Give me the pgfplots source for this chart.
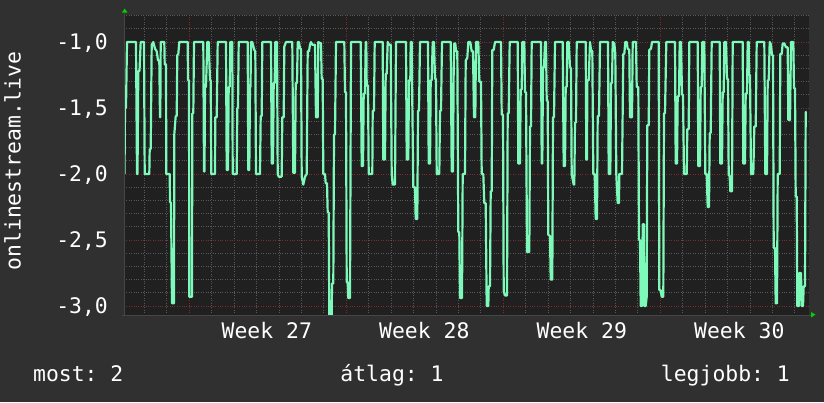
\documentclass[border=0pt]{standalone}
\usepackage{pgfplots}
\pgfplotsset{compat=1.18}
\usepackage{fontspec}
\setmonofont{DejaVu Sans Mono}
\definecolor{bgc}{RGB}{48,48,48}
\definecolor{plotbg}{RGB}{32,32,32}
\definecolor{mingrid}{RGB}{88,88,88}
\definecolor{majgrid}{RGB}{125,45,45}
\definecolor{linec}{RGB}{125,250,185}
\definecolor{arrowc}{RGB}{0,210,0}
\definecolor{axisc}{RGB}{70,70,70}
\newcommand{\rfont}{\ttfamily\fontsize{21.4}{25}\selectfont}
\begin{document}
\begin{tikzpicture}[x=1pt,y=1pt]
\useasboundingbox (0,0) rectangle (824,402);
\fill[bgc] (0,0) rectangle (824,402);
\begin{axis}[at={(124pt,87pt)}, anchor=south west, scale only axis,
 width=685pt, height=300pt,
 xmin=124, xmax=809, ymin=-3.068, ymax=-0.795,
 axis background/.style={fill=plotbg},
 axis line style={draw=none},
 xtick={189.3,346.31,503.32,660.33}, xticklabels={},
 minor xtick={144.44,166.87,...,795},
 ytick={-3,-2.5,-2,-1.5,-1},
 yticklabels={{-3,0},{-2,5},{-2,0},{-1,5},{-1,0}},
 minor ytick={-3,-2.9,...,-0.75},
 grid=both,
 major grid style={dotted, majgrid, line width=1pt},
 minor grid style={dotted, mingrid, line width=1pt},
 major tick length=0pt, minor tick length=0pt,
 tick style={draw=none},
 yticklabel style={font=\rfont, text=white, anchor=base east, inner sep=0pt, xshift=-16pt, yshift=-7.8pt},
 extra x ticks={266.8,424.3,581.8,739.3},
 extra x tick labels={Week 27,Week 28,Week 29,Week 30},
 extra x tick style={grid=none, tick label style={font=\rfont, text=white, anchor=base, inner sep=0pt, yshift=-23.5pt}},
]
\addplot[linec, line width=2.2pt, line join=round, no markers] coordinates {
(124.5,-2.0) (125,-1.5) (126,-1.5) (127,-1.0) (136,-1.0) (137,-2.0) (137.5,-2.0) (138.3,-1.22) (139.5,-1.22) (140.7,-1.0) (144,-1.0) (144.7,-2.0) (149.3,-2.0) (149.7,-1.81) (150.7,-1.81) (151.7,-1.02) (153.3,-1.0) (155,-1.05) (156.7,-1.07) (158,-1.14) (159.3,-1.14) (160,-1.57) (160.3,-1.57) (160.7,-1.0) (164.3,-1.0) (164.7,-1.17) (166,-1.17) (166.3,-2.0) (169.7,-2.0) (170,-2.21) (171,-2.22) (172,-2.98) (174,-2.98) (174.3,-1.70) (175.7,-1.56) (176.7,-1.56) (177.3,-1.1) (178.3,-1.09) (179.3,-1.0) (187.7,-1.0) (188,-1.29) (189,-1.29) (189.3,-2.93) (192,-2.93) (192.3,-1.54) (193.3,-1.54) (194,-1.0) (203.3,-1.0) (204,-1.98) (204.5,-1.98) (205,-1.34) (206,-1.34) (207.3,-1.0) (208.7,-1.0) (210,-1.29) (210.7,-1.29) (211.3,-2.0) (215,-2.0) (215.3,-1.57) (216.7,-1.57) (217.7,-1.0) (226,-1.0) (226.7,-1.97) (228,-1.97) (228.7,-1.34) (229.7,-1.34) (230.3,-1.0) (232.3,-1.0) (232.7,-2.0) (236.7,-2.0) (237.3,-1.5) (238,-1.5) (238.7,-1.0)
(247.7,-1.0) (248.3,-1.97) (249.3,-1.97) (250,-1.34) (250.5,-1.34) (251,-1.0) (252.3,-1.0) (254.3,-1.06) (255.3,-1.07) (256,-2.0) (260,-2.0) (260.7,-1.56) (261.7,-1.56) (262.3,-1.0) (271,-1.0) (271.7,-1.92) (273,-1.92) (273.7,-1.31) (274.7,-1.31) (275.3,-1.0) (277,-1.0) (277.7,-2.0) (278.7,-2.02) (281.7,-2.02) (282.3,-1.57) (283.7,-1.57) (284.3,-1.035) (286,-1.0) (292.3,-1.0) (293.3,-1.99) (295,-1.99) (295.7,-1.31) (297,-1.31) (297.7,-1.0) (299,-1.0) (300,-1.05) (301,-1.05) (301.7,-2.02) (303.3,-2.08) (305,-2.02) (306.7,-2.0) (307.7,-1.07) (309,-1.07) (310,-1.02) (311,-1.0) (312.3,-1.02) (315,-1.02) (316,-1.57) (317.7,-1.57) (318.3,-1.0) (321,-1.01) (321.7,-1.28) (322.7,-1.28) (323.3,-2.0) (325,-2.0) (325.7,-2.07) (327,-2.07) (327.7,-2.29) (328.7,-2.29) (329.3,-3.07) (331.7,-3.07) (332,-2.83) (333.3,-2.83) (334,-1.70) (335,-1.70) (336,-1.0) (344.3,-1.0) (345,-1.38) (346,-1.38) (346.7,-2.82) (347.7,-2.82) (348.3,-2.94) (350,-2.94) (351,-1.0)
(360.7,-1.0) (361.7,-1.94) (363,-1.94) (363.7,-1.39) (365,-1.39) (365.7,-1.0) (366.3,-1.0) (366.7,-1.33) (368,-1.33) (368.7,-2.0) (372.3,-2.0) (372.7,-1.52) (374,-1.52) (374.7,-1.0) (382.7,-1.0) (383.3,-1.89) (385,-1.89) (385.7,-1.24) (386.7,-1.24) (387.7,-1.0) (389,-1.02) (390.7,-1.02) (391.7,-2.0) (392.7,-2.08) (395,-2.08) (396,-1.0) (406,-1.0) (406.7,-1.89) (408.3,-1.89) (409,-1.29) (410.3,-1.29) (410.7,-1.0) (411.7,-1.0) (412,-1.26) (413.3,-2.1) (415,-2.1) (415.7,-2.34) (417.3,-2.34) (418,-1.52) (419,-1.52) (420,-1.0) (428,-1.0) (428.7,-1.92) (430,-1.92) (430.7,-1.29) (431.7,-1.29) (432.7,-1.0) (434,-1.0) (435,-1.28) (436,-1.28) (436.7,-2.0) (439.3,-2.0) (440,-1.52) (441,-1.52) (442,-1.0) (450.7,-1.0) (451.7,-1.98) (453,-1.98) (453.7,-1.19) (454.3,-1.01) (455.3,-1.01) (456,-1.07) (457.3,-1.07) (458.3,-2.44) (459.3,-2.44) (460,-2.94) (462,-2.94) (462.7,-2.0) (465,-2.0) (465.7,-1.14) (467.3,-1.12) (468.3,-1.0)
(470.3,-1.0) (471.7,-1.07) (473,-1.07) (474,-1.57) (475.3,-1.57) (476,-1.0) (478.3,-1.0) (479.3,-1.3) (481,-1.3) (481.7,-2.0) (483.3,-2.0) (484.3,-2.22) (485.7,-2.22) (486.7,-3.0) (488.3,-3.0) (488.7,-2.85) (490,-2.85) (490.7,-2.13) (491.7,-2.13) (492.3,-1.06) (493.7,-1.06) (495,-1.0) (501,-1.0) (501.7,-1.55) (503,-1.55) (503.7,-2.89) (505,-2.92) (507,-2.92) (507.7,-1.54) (508.7,-1.54) (509.7,-1.0) (517.7,-1.0) (518.3,-1.92) (520,-1.92) (520.7,-1.36) (521.7,-1.36) (522.3,-1.0) (524.3,-1.0) (525,-1.38) (526,-1.38) (527,-2.59) (529.3,-2.59) (530,-1.64) (531,-1.64) (531.7,-1.0) (541,-1.0) (541.7,-1.92) (542.3,-1.92) (543,-1.19) (544,-1.19) (545,-1.0) (546,-1.0) (546.7,-1.44) (547.7,-1.45) (548.3,-2.46) (550,-2.47) (550.7,-2.8) (552.3,-2.8) (553,-1.57) (554,-1.57) (555,-1.0) (562.7,-1.0) (563.7,-1.94) (565,-1.94) (565.7,-1.34) (566.7,-1.34) (567.3,-1.0) (568.7,-1.0) (570,-1.19) (571,-1.2) (571.7,-2.0) (573.7,-2.08) (574.3,-2.08) (575,-1.61) (576,-1.61) (576.7,-1.0)
(585.7,-1.0) (586.3,-1.89) (587,-1.89) (587.3,-1.29) (588.7,-1.29) (590,-1.0) (591,-1.06) (592.3,-1.07) (593.3,-2.0) (594.7,-2.0) (595.7,-2.34) (597,-2.34) (597.7,-1.56) (599,-1.56) (600,-1.0) (608,-1.0) (608.7,-2.0) (610.3,-2.0) (611,-1.31) (612,-1.31) (612.7,-1.0) (614.3,-1.01) (615.3,-1.09) (616.3,-2.0) (617.7,-2.22) (619,-2.22) (619.3,-2.0) (622,-2.0) (623.3,-1.09) (624.3,-1.09) (625.3,-1.0) (626.7,-1.0) (627.7,-1.05) (629.3,-1.06) (630,-1.57) (632,-1.57) (632.7,-1.0) (636,-1.0) (636.7,-1.34) (638.3,-1.34) (639,-2.5) (640,-2.5) (640.7,-3.0) (642,-3.0) (642.7,-2.38) (644,-2.38) (644.3,-3.0) (645.7,-3.0) (646.7,-2.93) (647.3,-1.63) (648.7,-1.63) (649.3,-1.06) (651,-1.05) (652,-1.0) (658.7,-1.0) (659.3,-2.88) (660.7,-2.88) (661.7,-2.93) (663.3,-2.93) (664,-1.54) (665,-1.54) (666.3,-1.0) (675,-1.0) (675.7,-1.92) (677,-1.92) (677.7,-1.41) (679,-1.41) (679.7,-1.0) (681,-1.0) (682,-1.40) (683,-1.40) (684,-2.0) (686.7,-2.0) (687.3,-1.66) (688.7,-1.66) (689.3,-1.0) (697.7,-1.0)
(698.3,-1.94) (700,-1.94) (700.7,-1.34) (701.7,-1.34) (702.3,-1.0) (704.3,-1.0) (705.3,-2.0) (706.7,-2.0) (707.7,-2.25) (709,-2.25) (709.7,-1.69) (710.7,-1.69) (711.7,-1.0) (719.7,-1.0) (720.3,-1.92) (722,-1.92) (722.7,-1.38) (723.7,-1.38) (724.3,-1.0) (726,-1.0) (727,-1.28) (728,-1.28) (728.7,-2.0) (729.7,-2.02) (730.3,-2.13) (732,-2.13) (732.7,-1.0) (742.7,-1.0) (743.3,-1.92) (745,-1.92) (745.7,-1.39) (747,-1.39) (747.7,-1.0) (748.7,-1.0) (749,-1.25) (750,-1.25) (751,-2.0) (753.3,-2.0) (754.3,-1.64) (755.7,-1.64) (756.7,-1.0) (764.3,-1.0) (765.3,-2.0) (767,-2.0) (767.7,-1.29) (768.7,-1.29) (769.7,-1.0) (771,-1.02) (772,-1.1) (773,-1.1) (773.7,-2.56) (775,-2.56) (775.7,-2.98) (777,-2.98) (777.7,-2.0) (779.7,-2.0) (780.3,-1.09) (781.7,-1.09) (782.7,-1.01) (784.3,-1.01) (786,-1.04) (787.7,-1.04) (788.3,-1.59) (790,-1.59) (791,-1.0) (793.3,-1.0) (794,-1.35) (795,-1.35) (795.7,-2.17) (796.7,-2.17) (797.3,-3.0) (799,-3.0) (799.3,-2.75) (801,-2.75) (801.7,-3.0) (803,-3.0) (803.7,-2.85) (805,-2.85) (805.7,-1.53) (806.5,-1.53)
};
\end{axis}
\draw[axisc, line width=1pt] (122,87) -- (811,87);
\draw[axisc, line width=1pt] (124,87) -- (124,389);
\fill[arrowc] (811,84.5) -- (815.5,87.3) -- (811,90) -- cycle;
\fill[arrowc] (121.8,389.3) -- (124.7,393.5) -- (127.6,389.3) -- cycle;
\node[rotate=90, anchor=base, font=\rfont, text=white, inner sep=0pt] at (20.5,241) {onlinestream.live};
\node[anchor=base west, font=\rfont, text=white, inner sep=0pt] at (33,21) {most: 2};
\node[anchor=base, font=\rfont, text=white, inner sep=0pt] at (392,21) {átlag: 1};
\node[anchor=base east, font=\rfont, text=white, inner sep=0pt] at (790,21) {legjobb: 1};
\end{tikzpicture}
\end{document}
